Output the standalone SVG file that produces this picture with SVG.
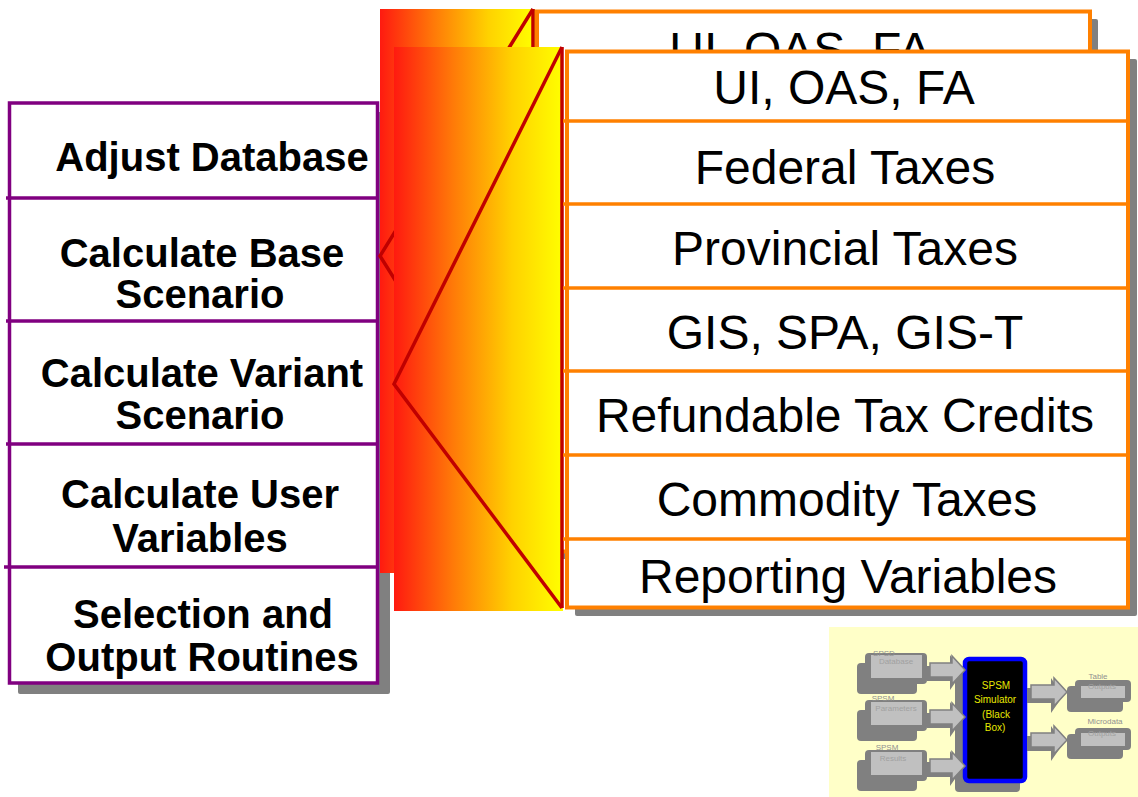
<svg xmlns="http://www.w3.org/2000/svg" width="1138" height="797" viewBox="0 0 1138 797">
<defs>
<linearGradient id="grad" x1="0" y1="0" x2="1" y2="0">
<stop offset="0" stop-color="#ff1a10"/>
<stop offset="0.35" stop-color="#ff7a08"/>
<stop offset="0.7" stop-color="#ffd200"/>
<stop offset="1" stop-color="#ffff00"/>
</linearGradient>
<clipPath id="backclip">
<rect x="530" y="0" width="600" height="50"/>
</clipPath>
<style>
.shadow{fill:#808080}
.pbox{fill:#fff;stroke:#800080;stroke-width:3.5}
.pline{stroke:#800080;stroke-width:3.5}
.obox{fill:#fff;stroke:#ff8000;stroke-width:4}
.oline{stroke:#ff8000;stroke-width:3.5}
.red{fill:none;stroke:#c00000;stroke-width:3.5;stroke-linejoin:miter}
.lt{font-family:"Liberation Sans",Arial,sans-serif;font-weight:bold;font-size:40px;fill:#000;text-anchor:middle}
.rt{font-family:"Liberation Sans",Arial,sans-serif;font-size:48px;fill:#000;text-anchor:middle}
.st{font-family:"Liberation Sans",Arial,sans-serif;font-size:8px;text-anchor:middle}
.yt{font-family:"Liberation Sans",Arial,sans-serif;font-size:10px;fill:#e8e800;text-anchor:middle}
.dg{fill:#808080}
.lg{fill:#c0c0c0}
.arr{fill:#c0c0c0;stroke:#808080;stroke-width:1.5}
</style>
</defs>

<!-- left process list -->
<g id="process-list">
<rect class="shadow" x="18" y="112" width="372" height="582" rx="2"/>
<rect class="pbox" x="9.5" y="103" width="368" height="580"/>
<line class="pline" x1="6" y1="198" x2="377" y2="198"/>
<line class="pline" x1="6" y1="321" x2="377" y2="321"/>
<line class="pline" x1="6" y1="444" x2="377" y2="444"/>
<line class="pline" x1="4" y1="567" x2="377" y2="567"/>
<text class="lt" x="212" y="171">Adjust Database</text>
<text class="lt" x="202" y="267">Calculate Base</text>
<text class="lt" x="200" y="308">Scenario</text>
<text class="lt" x="202" y="387">Calculate Variant</text>
<text class="lt" x="200" y="429">Scenario</text>
<text class="lt" x="200" y="508">Calculate User</text>
<text class="lt" x="200" y="552">Variables</text>
<text class="lt" x="203" y="628">Selection and</text>
<text class="lt" x="202" y="671">Output Routines</text>
</g>

<!-- back layer -->
<g id="back-expansion">
<rect x="380" y="9" width="155" height="564" fill="url(#grad)"/>
<polyline class="red" points="533,9 380,256 533,500"/>
<line class="red" x1="533" y1="9" x2="533" y2="560"/>
<rect class="shadow" x="545" y="19" width="553" height="540" rx="2"/>
<rect class="obox" x="537" y="11.5" width="553" height="540"/>
<text class="rt" x="800" y="66" clip-path="url(#backclip)">UI, OAS, FA</text>
</g>

<!-- front layer -->
<g id="front-expansion">
<rect x="394" y="47" width="169" height="564" fill="url(#grad)"/>
</g>
<g id="connectors">
<polyline class="red" points="562,47 394,384 562,608"/>
<line class="red" x1="562" y1="47" x2="562" y2="608"/>
</g>
<g id="program-list">
<rect class="shadow" x="575" y="59" width="562" height="557" rx="2"/>
<rect class="obox" x="567" y="51.5" width="561" height="556"/>
<line class="oline" x1="563" y1="121" x2="1128" y2="121"/>
<line class="oline" x1="563" y1="204" x2="1128" y2="204"/>
<line class="oline" x1="563" y1="288" x2="1128" y2="288"/>
<line class="oline" x1="563" y1="371" x2="1128" y2="371"/>
<line class="oline" x1="563" y1="455" x2="1128" y2="455"/>
<line class="oline" x1="563" y1="539" x2="1128" y2="539"/>
<text class="rt" x="844" y="104">UI, OAS, FA</text>
<text class="rt" x="845" y="184">Federal Taxes</text>
<text class="rt" x="845" y="265">Provincial Taxes</text>
<text class="rt" x="845" y="349">GIS, SPA, GIS-T</text>
<text class="rt" x="845" y="432">Refundable Tax Credits</text>
<text class="rt" x="847" y="516">Commodity Taxes</text>
<text class="rt" x="848" y="593">Reporting Variables</text>
</g>

<!-- thumbnail -->
<g id="thumbnail">
<rect x="829" y="627" width="309" height="170" fill="#ffffc8"/>
<g id="thumb-in-1">
<rect class="dg" x="857" y="663" width="60" height="31" rx="4"/>
<rect class="dg" x="865" y="653" width="62" height="31" rx="4"/>
<rect class="lg" x="871" y="655" width="51" height="23"/>
<text class="st" x="884" y="656" fill="#909090">SPSD</text>
<text class="st" x="896" y="664" fill="#a0a0a0">Database</text>
</g>
<g id="thumb-in-2">
<rect class="dg" x="857" y="710" width="60" height="31" rx="4"/>
<rect class="dg" x="865" y="700" width="62" height="31" rx="4"/>
<rect class="lg" x="871" y="702" width="51" height="23"/>
<text class="st" x="883" y="701" fill="#909090">SPSM</text>
<text class="st" x="896" y="711" fill="#a0a0a0">Parameters</text>
</g>
<g id="thumb-in-3">
<rect class="dg" x="857" y="760" width="60" height="31" rx="4"/>
<rect class="dg" x="865" y="750" width="62" height="31" rx="4"/>
<rect class="lg" x="871" y="752" width="51" height="23"/>
<text class="st" x="887" y="750" fill="#909090">SPSM</text>
<text class="st" x="893" y="761" fill="#a0a0a0">Results</text>
</g>
<g id="thumb-sim">
<rect class="dg" x="955" y="666" width="65" height="126" rx="4"/>
<rect x="965" y="659" width="60" height="122" rx="4" fill="#000" stroke="#0000ff" stroke-width="4.5"/>
<text class="yt" x="996" y="689">SPSM</text>
<text class="yt" x="995" y="703">Simulator</text>
<text class="yt" x="996" y="718">(Black</text>
<text class="yt" x="995" y="731">Box)</text>
</g>
<g id="thumb-out-1">
<rect class="dg" x="1067" y="686" width="56" height="26" rx="4"/>
<rect class="dg" x="1075" y="680" width="56" height="22" rx="4"/>
<rect class="lg" x="1081" y="686" width="44" height="12"/>
<text class="st" x="1098" y="679" fill="#909090">Table</text>
<text class="st" x="1102" y="689" fill="#a0a0a0">Outputs</text>
</g>
<g id="thumb-out-2">
<rect class="dg" x="1067" y="734" width="56" height="25" rx="4"/>
<rect class="dg" x="1075" y="728" width="56" height="22" rx="4"/>
<rect class="lg" x="1081" y="733" width="44" height="13"/>
<text class="st" x="1105" y="724" fill="#909090">Microdata</text>
<text class="st" x="1102" y="736" fill="#a0a0a0">Outputs</text>
</g>
<g id="thumb-arrows">
<polygon class="dg" points="927,666 950,666 950,655 962,673 950,690 950,681 927,681"/>
<polygon class="arr" points="930,663 952,663 952,656 965,670 952,684 952,677 930,677"/>
<polygon class="dg" points="927,713 950,713 950,702 962,720 950,737 950,728 927,728"/>
<polygon class="arr" points="930,710 952,710 952,703 965,717 952,731 952,724 930,724"/>
<polygon class="dg" points="927,762 950,762 950,751 962,769 950,786 950,777 927,777"/>
<polygon class="arr" points="930,759 952,759 952,752 965,766 952,780 952,773 930,773"/>
<polygon class="dg" points="1027,688 1051,688 1051,678 1063,696 1051,713 1051,703 1027,703"/>
<polygon class="arr" points="1031,685 1054,685 1054,678 1067,692 1054,706 1054,699 1031,699"/>
<polygon class="dg" points="1027,736 1051,736 1051,726 1063,744 1051,761 1051,751 1027,751"/>
<polygon class="arr" points="1031,733 1054,733 1054,726 1067,740 1054,754 1054,747 1031,747"/>
</g>
</g>
</svg>
